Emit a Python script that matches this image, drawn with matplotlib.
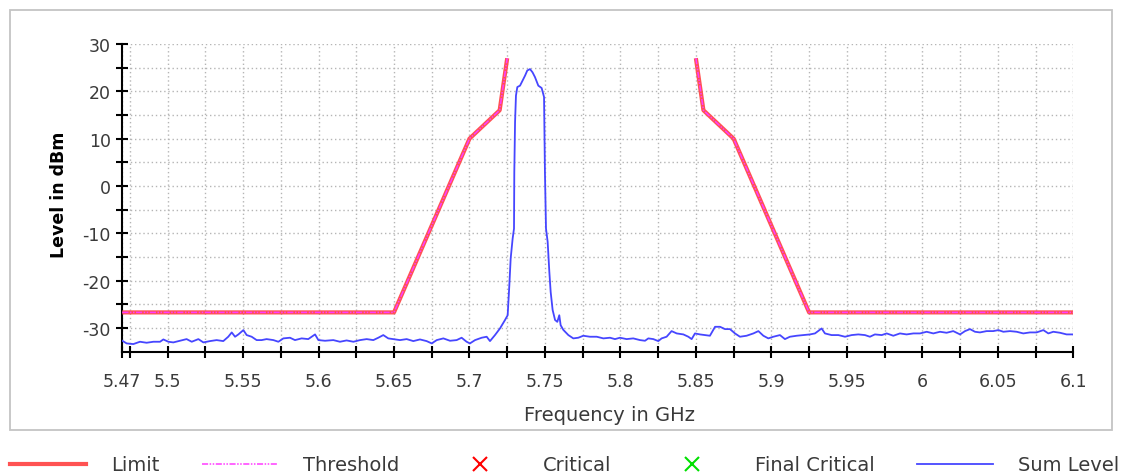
import matplotlib
matplotlib.use("Agg")
import matplotlib.pyplot as plt
from matplotlib.lines import Line2D
from matplotlib.patches import Rectangle
import numpy as np

# Limit mask (GHz, dBm)
limit_freq = [5.47, 5.65, 5.70, 5.72, 5.725, None, 5.85, 5.855, 5.875, 5.925, 6.10]
limit_level = [-26.7, -26.7, 10, 16, 27, None, 27, 16, 10, -26.7, -26.7]

sum_freq = [
    5.4700, 5.4729, 5.4773, 5.4817, 5.4861, 5.4906, 5.4950, 5.4972, 5.5005, 5.5038,
    5.5082, 5.5126, 5.5160, 5.5204, 5.5237, 5.5281, 5.5325, 5.5369, 5.5402, 5.5425,
    5.5447, 5.5469, 5.5502, 5.5524, 5.5557, 5.5590, 5.5623, 5.5656, 5.5701, 5.5734,
    5.5767, 5.5811, 5.5844, 5.5888, 5.5932, 5.5977, 5.5999, 5.6043, 5.6098, 5.6142,
    5.6186, 5.6231, 5.6275, 5.6319, 5.6363, 5.6396, 5.6429, 5.6462, 5.6496, 5.6540,
    5.6584, 5.6628, 5.6672, 5.6716, 5.6750, 5.6783, 5.6827, 5.6871, 5.6915, 5.6948,
    5.6981, 5.7003, 5.7037, 5.7081, 5.7114, 5.7136, 5.7169, 5.7202, 5.7235,
    5.7253, 5.7264, 5.7273, 5.7286, 5.7295, 5.7297, 5.7302, 5.7308, 5.7317, 5.7335,
    5.7352, 5.7368, 5.7383, 5.7401, 5.7418, 5.7434, 5.7456, 5.7478, 5.7494, 5.7500,
    5.7507, 5.7518, 5.7529, 5.7538, 5.7551, 5.7567, 5.7582, 5.7595, 5.7604, 5.7622,
    5.7655, 5.7688, 5.7721, 5.7754, 5.7798, 5.7843, 5.7887, 5.7931, 5.7964, 5.7997,
    5.8041, 5.8085, 5.8130, 5.8163, 5.8185, 5.8218, 5.8251, 5.8273, 5.8306, 5.8339,
    5.8373, 5.8417, 5.8450, 5.8472, 5.8494, 5.8527, 5.8560, 5.8593, 5.8627, 5.8660,
    5.8693, 5.8726, 5.8759, 5.8792, 5.8836, 5.8881, 5.8914, 5.8947, 5.8980, 5.9013,
    5.9057, 5.9090, 5.9123, 5.9168, 5.9212, 5.9256, 5.9289, 5.9333, 5.9355, 5.9399,
    5.9444, 5.9488, 5.9532, 5.9576, 5.9620, 5.9653, 5.9686, 5.9731, 5.9764, 5.9808,
    5.9852, 5.9896, 5.9941, 5.9985, 6.0029, 6.0073, 6.0117, 6.0161, 6.0205, 6.0250,
    6.0283, 6.0316, 6.0349, 6.0382, 6.0426, 6.0470, 6.0504, 6.0537, 6.0581, 6.0625,
    6.0669, 6.0713, 6.0757, 6.0802, 6.0835, 6.0868, 6.0912, 6.0956, 6.1000,
]
sum_level = [
    -32.69, -33.25, -33.39, -32.90, -33.11, -32.90, -32.90, -32.41, -32.90, -33.04,
    -32.69, -32.34, -32.90, -32.34, -33.04, -32.76, -32.55, -32.76, -31.84, -30.93,
    -31.84, -31.35, -30.44, -31.49, -31.84, -32.55, -32.55, -32.34, -32.55, -32.90,
    -32.19, -32.05, -32.55, -32.19, -32.34, -31.35, -32.55, -32.69, -32.55, -32.90,
    -32.62, -32.90, -32.55, -32.34, -32.55, -32.05, -31.49, -32.19, -32.34, -32.55,
    -32.34, -32.76, -32.41, -32.76, -33.25, -32.55, -32.19, -32.69, -32.55, -32.05,
    -32.90, -33.25, -32.55, -32.05, -31.84, -32.76, -31.49, -30.09, -28.33,
    -27.3, -21.0, -15.3, -11.1, -9.0, 2.9, 13.5, 19.1, 20.9, 21.2,
    22.3, 23.3, 24.4, 24.7, 24.0, 23.0, 21.2, 20.7, 18.8, 2.9,
    -9.0, -11.8, -18.1, -22.4, -26.2, -28.3, -28.7, -27.3, -29.4, -30.4,
    -31.49, -32.19, -32.05, -31.63, -31.84, -31.84, -32.19, -32.05, -32.34, -32.05,
    -32.34, -32.19, -32.55, -32.69, -32.19, -32.34, -32.76, -32.19, -31.84, -30.65,
    -31.14, -31.35, -31.84, -32.34, -31.14, -31.35, -31.49, -31.63, -29.74, -29.74,
    -30.23, -30.23, -31.14, -31.84, -31.63, -31.14, -30.65, -31.63, -32.19, -31.84,
    -31.49, -32.34, -31.84, -31.63, -31.49, -31.35, -31.14, -30.09, -31.14, -31.49,
    -31.49, -31.84, -31.49, -31.35, -31.49, -31.84, -31.35, -31.49, -31.14, -31.63,
    -31.14, -31.35, -31.14, -31.14, -30.79, -31.14, -30.79, -31.00, -30.65, -31.35,
    -30.65, -30.23, -30.79, -30.93, -30.65, -30.65, -30.44, -30.79, -30.65, -30.79,
    -31.14, -30.93, -30.93, -30.44, -31.14, -30.79, -31.00, -31.35, -31.35,
]

x_major = [5.47, 5.5, 5.55, 5.6, 5.65, 5.7, 5.75, 5.8, 5.85, 5.9, 5.95, 6.0, 6.05, 6.1]
x_labels = ["5.47", "5.5", "5.55", "5.6", "5.65", "5.7", "5.75", "5.8", "5.85",
            "5.9", "5.95", "6", "6.05", "6.1"]
x_minor = [5.475 + 0.05 * i for i in range(13)]
y_major = [-30, -20, -10, 0, 10, 20, 30]
y_minor = [-25, -15, -5, 5, 15, 25]

text_col = "#3a3a3a"
limit_col = "#ff5252"
thresh_col = "#ff3cff"
sum_col = "#4646ff"

plt.rcParams["font.family"] = "DejaVu Sans"
plt.rcParams["axes.unicode_minus"] = False

fig = plt.figure(figsize=(11.21, 4.77), dpi=100)
ax = fig.add_axes([0.1091, 0.2606, 0.8483, 0.6451])

# outer frame
fig.patches.append(Rectangle((0.0089, 0.0964), 0.983, 0.8805, transform=fig.transFigure,
                             fill=False, edgecolor="#c4c4c4", linewidth=1.3))

lf = np.array([np.nan if v is None else v for v in limit_freq], dtype=float)
ll = np.array([np.nan if v is None else v for v in limit_level], dtype=float)
ax.plot(lf, ll, color=limit_col, linewidth=3.0, solid_capstyle="butt", zorder=3)
ax.plot(lf, ll, color=thresh_col, linewidth=1.1, dashes=(4, 1, 1, 1, 1, 1), zorder=4)
ax.plot(sum_freq, sum_level, color=sum_col, linewidth=1.3, zorder=5)

ax.set_xlim(5.47, 6.1)
ax.set_ylim(-35, 30)
ax.set_xticks(x_major)
ax.set_xticklabels(x_labels)
ax.set_xticks(x_minor, minor=True)
ax.set_yticks(y_major)
ax.set_yticks(y_minor, minor=True)

for s in ["top", "right"]:
    ax.spines[s].set_visible(False)
for s in ["left", "bottom"]:
    ax.spines[s].set_linewidth(1.5)
    ax.spines[s].set_color("black")

ax.tick_params(axis="both", which="both", direction="inout", length=8.6, width=1.5,
               color="black", labelcolor=text_col, labelsize=12.5)
ax.tick_params(axis="x", which="both", pad=10.5)
ax.tick_params(axis="y", which="both", pad=4)
ax.grid(True, which="both", color="#b5b5b5", linestyle=(0, (1, 2)), linewidth=1.0)
ax.set_axisbelow(True)

ax.set_xlabel("Frequency in GHz", fontsize=14, color=text_col)
ax.xaxis.set_label_coords(0.512, -0.173)
ax.set_ylabel("Level in dBm", fontsize=12.5, fontweight="bold", color="black")
ax.yaxis.set_label_coords(-0.057, 0.513)

handles = [
    Line2D([], [], color=limit_col, linewidth=3.0),
    Line2D([], [], color=thresh_col, linewidth=1.1, dashes=(4, 1, 1, 1, 1, 1)),
    Line2D([], [], color="red", linestyle="none", marker="x", markersize=10, markeredgewidth=1.5),
    Line2D([], [], color="#00e000", linestyle="none", marker="x", markersize=10, markeredgewidth=1.5),
    Line2D([], [], color=sum_col, linewidth=1.3),
]
labels = ["Limit", "Threshold", "Critical", "Final Critical", "Sum Level"]
fig.legend(handles, labels, loc="center left", bbox_to_anchor=(10 / 1121, 1 - 466 / 477),
           ncol=5, frameon=False, fontsize=14, labelcolor=text_col, borderpad=0,
           borderaxespad=0, handlelength=3.9, handletextpad=1.3, columnspacing=2.18)

fig.savefig("out.png", dpi=100)
